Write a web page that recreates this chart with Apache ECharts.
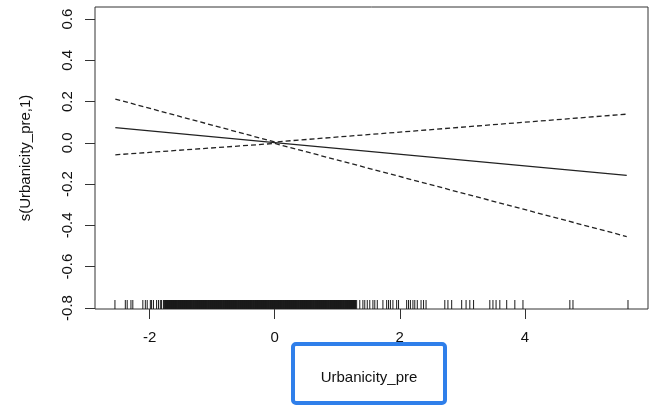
<!DOCTYPE html>
<html>
<head>
<meta charset="utf-8">
<script src="https://cdn.jsdelivr.net/npm/echarts@6/dist/echarts.min.js"></script>
<style>
  html, body { margin: 0; padding: 0; background: #fff; }
  #chart { width: 664px; height: 406px; }
</style>
</head>
<body>
<div id="chart"></div>
<script>
// smooth term s(Urbanicity_pre,1): fit and +/- 2 se bands
const xPoints = [-2.55, 0, 5.63];
const fitValues = [0.074, 0.001, -0.158];
const upperValues = [0.212, 0.004, 0.139];
const lowerValues = [-0.058, -0.003, -0.454];

const xTicks = [-2, 0, 2, 4];
const yTicks = [-0.8, -0.6, -0.4, -0.2, 0, 0.2, 0.4, 0.6];

const rugSparse = [
  -2.556, -2.39, -2.36, -2.30, -2.27, -2.11, -2.07, -2.04, -1.99, -1.97, -1.94,
  -1.89, -1.86, -1.83, -1.81, -1.78,
  1.31, 1.36, 1.41, 1.44, 1.48, 1.52, 1.57, 1.60, 1.64, 1.73, 1.79,
  1.82, 1.85, 1.89, 1.95, 1.98, 2.11, 2.14, 2.17, 2.21, 2.24, 2.28,
  2.34, 2.38, 2.42, 2.72, 2.77, 2.83, 2.99, 3.06, 3.12, 3.18,
  3.44, 3.49, 3.54, 3.60, 3.71, 3.84, 3.97, 4.72, 4.77, 5.65
];
const rugDense = [
  -1.75, -1.72, -1.69, -1.66, -1.63, -1.60, -1.57, -1.54, -1.51, -1.48,
  -1.45, -1.42, -1.39, -1.36, -1.33, -1.30, -1.27, -1.24, -1.21, -1.18,
  -1.15, -1.12, -1.09, -1.06, -1.03, -1.00, -0.97, -0.94, -0.91, -0.88,
  -0.85, -0.82, -0.79, -0.76, -0.73, -0.70, -0.67, -0.64, -0.61, -0.58,
  -0.55, -0.52, -0.49, -0.46, -0.43, -0.40, -0.37, -0.34, -0.31, -0.28,
  -0.25, -0.22, -0.19, -0.16, -0.13, -0.10, -0.07, -0.04, -0.01, 0.02,
  0.05, 0.08, 0.11, 0.14, 0.17, 0.20, 0.23, 0.26, 0.29, 0.32,
  0.35, 0.38, 0.41, 0.44, 0.47, 0.50, 0.53, 0.56, 0.59, 0.62,
  0.65, 0.68, 0.71, 0.74, 0.77, 0.80, 0.83, 0.86, 0.89, 0.92,
  0.95, 0.98, 1.01, 1.04, 1.07, 1.10, 1.13, 1.16, 1.19, 1.22, 1.25, 1.28
];

const Y_MIN = -0.805;
const Y_MAX = 0.658;
const FONT = "Liberation Sans, Arial, Helvetica, sans-serif";

const toPairs = (ys) => xPoints.map((x, i) => [x, ys[i]]);

const rugSeries = (values, width) => ({
  type: "custom",
  silent: true,
  z: 3,
  data: values.map((v) => [v]),
  renderItem: (params, api) => {
    const p = api.coord([api.value(0), Y_MIN]);
    return {
      type: "line",
      shape: { x1: p[0], y1: p[1], x2: p[0], y2: p[1] - 9 },
      style: { stroke: "#1a1a1a", lineWidth: width }
    };
  }
});

const chart = echarts.init(document.getElementById("chart"), null, { renderer: "canvas" });

const option = {
  animation: false,
  backgroundColor: "#fff",
  grid: {
    left: 95,
    right: 16,
    top: 7,
    bottom: 97,
    show: true,
    borderColor: "#333",
    borderWidth: 1,
    backgroundColor: "transparent"
  },
  xAxis: {
    type: "value",
    min: -2.875,
    max: 5.97,
    axisLine: { show: false, onZero: false },
    splitLine: { show: false },
    axisTick: {
      show: true,
      length: 10,
      customValues: xTicks,
      lineStyle: { color: "#333", width: 1 }
    },
    axisLabel: {
      customValues: xTicks,
      margin: 21,
      fontSize: 15,
      fontFamily: FONT,
      color: "#111"
    }
  },
  yAxis: {
    type: "value",
    min: Y_MIN,
    max: Y_MAX,
    name: "s(Urbanicity_pre,1)",
    nameLocation: "middle",
    nameRotate: 90,
    nameGap: 62,
    nameTextStyle: { fontSize: 15, fontFamily: FONT, color: "#111" },
    axisLine: { show: false, onZero: false },
    splitLine: { show: false },
    axisTick: {
      show: true,
      length: 10,
      customValues: yTicks,
      lineStyle: { color: "#333", width: 1 }
    },
    axisLabel: {
      customValues: yTicks,
      rotate: 90,
      margin: 20,
      fontSize: 15,
      fontFamily: FONT,
      color: "#111",
      formatter: (v) => v.toFixed(1)
    }
  },
  series: [
    {
      type: "line",
      data: toPairs(fitValues),
      symbol: "none",
      lineStyle: { color: "#222", width: 1.3, type: "solid" }
    },
    {
      type: "line",
      data: toPairs(upperValues),
      symbol: "none",
      lineStyle: { color: "#222", width: 1.3, type: [5, 3] }
    },
    {
      type: "line",
      data: toPairs(lowerValues),
      symbol: "none",
      lineStyle: { color: "#222", width: 1.3, type: [5, 3] }
    },
    rugSeries(rugSparse, 1),
    rugSeries(rugDense, 2.6)
  ],
  graphic: [
    {
      type: "rect",
      z: 100,
      shape: { x: 293, y: 344, width: 152, height: 59, r: 3 },
      style: { fill: "#fff", stroke: "#2f7fea", lineWidth: 4 }
    },
    {
      type: "text",
      z: 101,
      x: 369,
      y: 378,
      style: {
        text: "Urbanicity_pre",
        fill: "#111",
        font: "15px " + FONT,
        align: "center",
        verticalAlign: "middle"
      }
    }
  ]
};

chart.setOption(option);
</script>
</body>
</html>
